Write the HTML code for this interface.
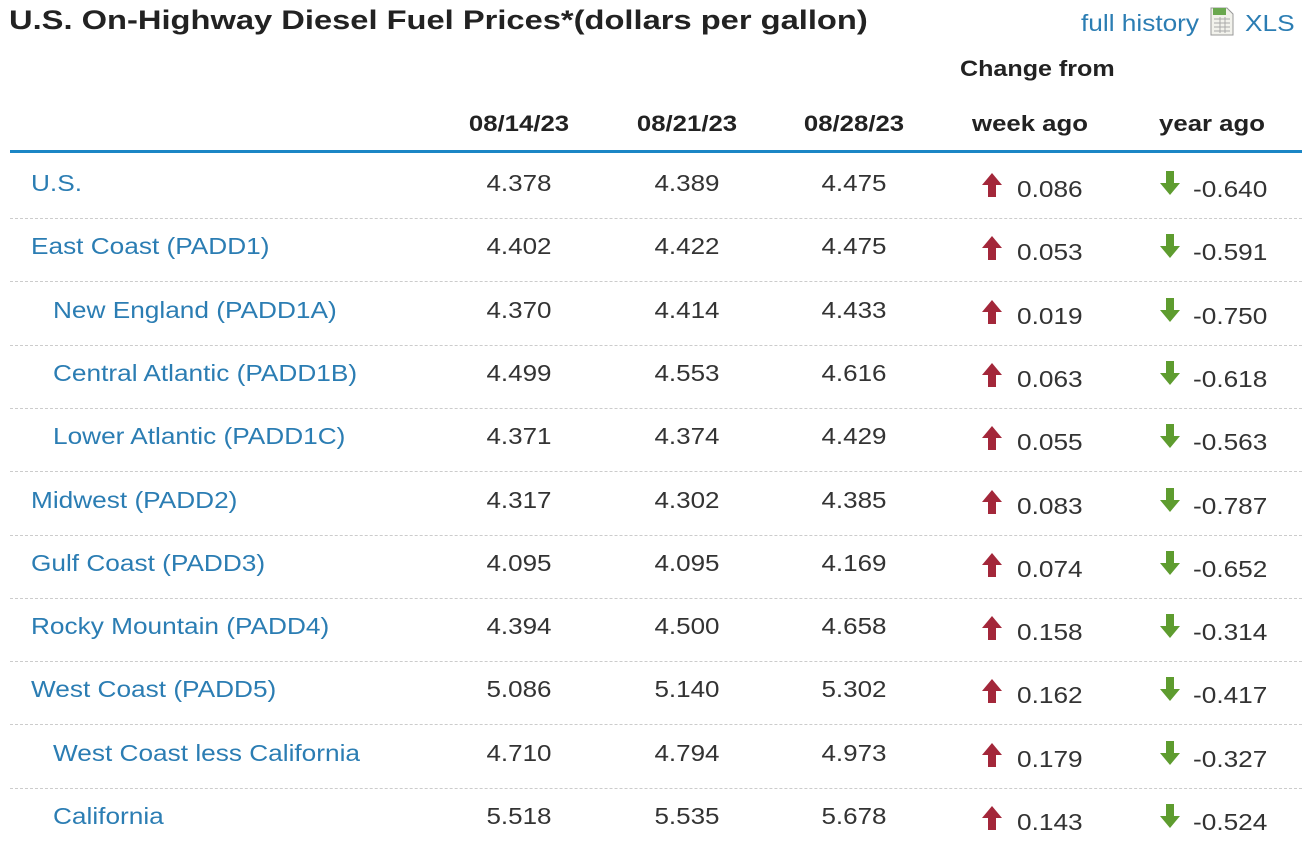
<!DOCTYPE html>
<html><head><meta charset="utf-8">
<style>
html,body{margin:0;padding:0;background:#fff;width:1310px;height:843px;overflow:hidden;font-family:"Liberation Sans",Arial,sans-serif;}
.a{position:absolute;white-space:nowrap;}
.L{transform-origin:0 50%;transform:scaleX(1.14);}
.t{font-size:27px;font-weight:bold;color:#222;left:9px;top:5px;transform-origin:0 50%;transform:scaleX(1.21);}
.h{font-size:22px;font-weight:bold;color:#222;}
.lnk{color:#2b7db3;font-size:23px;}
.name{color:#2b7db3;font-size:23px;}
.num{color:#333;font-size:23px;}
.c{transform:translateX(-50%) scaleX(1.13);}
.hc{transform:translateX(-50%) scaleX(1.17);}
.sep{position:absolute;left:10px;width:1292px;border-top:1px dashed #ccc;height:0;}
</style></head><body>
<div class="a t">U.S. On-Highway Diesel Fuel Prices*(dollars per gallon)</div>
<div class="a lnk L" style="left:1081px;top:10px">full history</div>
<svg class="a" style="left:1208px;top:5px" width="28" height="32"><path d="M3 3h16l6 6v21H3z" fill="#f2f2ec" stroke="#999"/><rect x="5" y="3" width="13" height="7" fill="#6aa84f"/><g stroke="#aaa"><line x1="6" y1="14" x2="22" y2="14"/><line x1="6" y1="18" x2="22" y2="18"/><line x1="6" y1="22" x2="22" y2="22"/><line x1="6" y1="26" x2="22" y2="26"/><line x1="12" y1="12" x2="12" y2="28"/><line x1="17" y1="12" x2="17" y2="28"/></g></svg>
<div class="a lnk L" style="left:1245px;top:10px">XLS</div>
<div class="a h L" style="left:960px;top:56px">Change from</div>
<div id="hdr"></div>
<div class="a" style="left:10px;top:150px;width:1292px;height:3px;background:#1b86c5"></div>
<div id="rows"></div>
<script>
const dates=["08/14/23","08/21/23","08/28/23"];
const names=["U.S.","East Coast (PADD1)","New England (PADD1A)","Central Atlantic (PADD1B)","Lower Atlantic (PADD1C)","Midwest (PADD2)","Gulf Coast (PADD3)","Rocky Mountain (PADD4)","West Coast (PADD5)","West Coast less California","California"];
const indent=[0,0,1,1,1,0,0,0,0,1,1];
const w1=["4.378","4.402","4.370","4.499","4.371","4.317","4.095","4.394","5.086","4.710","5.518"];
const w2=["4.389","4.422","4.414","4.553","4.374","4.302","4.095","4.500","5.140","4.794","5.535"];
const w3=["4.475","4.475","4.433","4.616","4.429","4.385","4.169","4.658","5.302","4.973","5.678"];
const wk=["0.086","0.053","0.019","0.063","0.055","0.083","0.074","0.158","0.162","0.179","0.143"];
const yr=["-0.640","-0.591","-0.750","-0.618","-0.563","-0.787","-0.652","-0.314","-0.417","-0.327","-0.524"];
const colX=[519,687,854];
const hdr=document.getElementById('hdr');
function div(cls,txt,l,t,name){const d=document.createElement('div');d.className='a '+cls;d.textContent=txt;d.style.left=l+'px';d.style.top=t+'px';


return d;}
dates.forEach((d,i)=>{hdr.appendChild(div('h hc',d,colX[i],111,'date-header-'+i));});
hdr.appendChild(div('h hc','week ago',1030,111,'week-ago-header'));
hdr.appendChild(div('h hc','year ago',1212,111,'year-ago-header'));
const rows=document.getElementById('rows');
const pitch=63.3;
function arrow(x,y,up,col){const s=document.createElementNS('http://www.w3.org/2000/svg','svg');s.setAttribute('width','22');s.setAttribute('height','26');s.setAttribute('class','a');s.style.left=x+'px';s.style.top=y+'px';


s.innerHTML=up?'<path d="M11 1L21 13H15V25H7V13H1Z" fill="'+col+'"/>':'<path d="M11 25L21 13H15V1H7V13H1Z" fill="'+col+'"/>';return s;}
names.forEach((n,i)=>{
  const y=183+i*pitch;
  const nm=div('name L',n,indent[i]?53:31,y-13,'region-name-'+i);
  
  rows.appendChild(nm);
  [w1,w2,w3].forEach((arr,j)=>rows.appendChild(div('num c',arr[i],colX[j],y-13,'price-'+i+'-'+j)));
  rows.appendChild(arrow(981,y-11,true,'#a3273a'));
  rows.appendChild(div('num L',wk[i],1017,y-7,'week-change-'+i));
  rows.appendChild(arrow(1159,y-13,false,'#5e9c2f'));
  rows.appendChild(div('num L',yr[i],1193,y-7,'year-change-'+i));
  if(i<names.length-1){const s=document.createElement('div');s.className='sep';s.style.top=(y+35)+'px';
  
  
  rows.appendChild(s);}
});
</script>
</body></html>
